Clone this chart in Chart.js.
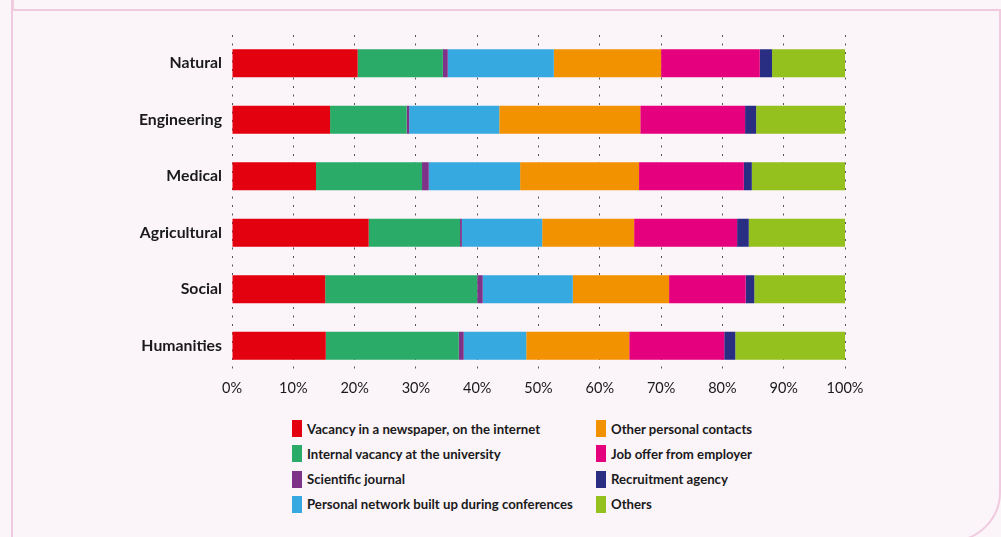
<!DOCTYPE html>
<html>
<head>
<meta charset="utf-8">
<script src="https://cdn.jsdelivr.net/npm/chart.js@4"></script>
<style>
    html, body {
        margin: 0;
        padding: 0;
        width: 1001px;
        height: 537px;
        overflow: hidden;
        background: #fbf4f9;
        font-family: Lato, "Open Sans", sans-serif;
    }
    .frame {
        position: absolute;
        left: 11px;
        top: 9px;
        width: 986px;
        height: 529px;
        border: 2.5px solid #f0cade;
        border-bottom-right-radius: 50px;
    }
    .topline {
        position: absolute;
        left: 11px;
        top: 0;
        width: 2.5px;
        height: 10px;
        background: #f0cade;
    }
    .chart-box {
        position: absolute;
        left: 0;
        top: 0;
        width: 1001px;
        height: 400px;
    }
    #legend {
        position: absolute;
        left: 292px;
        top: 420px;
        display: grid;
        grid-template-columns: 304px 200px;
        grid-auto-flow: column;
        grid-template-rows: repeat(4, 25.3px);
        font-weight: 700;
        font-size: 13.2px;
        color: #1a1a1a;
    }
    .item {
        display: flex;
        align-items: center;
        height: 17px;
    }
    .swatch {
        width: 10px;
        height: 17px;
        margin-right: 5px;
        flex: none;
    }
</style>
</head>
<body>
<div class="topline"></div>
<div class="frame"></div>
<div class="chart-box"><canvas id="barChart" width="1001" height="400"></canvas></div>
<div id="legend"></div>
<script>
// Fields of study
const categories = ['Natural', 'Engineering', 'Medical', 'Agricultural', 'Social', 'Humanities'];

// How the job was found (% per field)
const newspaper  = [20.5, 16.0, 13.7, 22.3, 15.2, 15.3];
const internal   = [13.9, 12.5, 17.3, 14.9, 24.8, 21.7];
const journal    = [0.8, 0.4, 1.1, 0.3, 0.9, 0.8];
const network    = [17.3, 14.7, 14.9, 13.1, 14.7, 10.2];
const contacts   = [17.5, 23.0, 19.4, 15.0, 15.7, 16.8];
const jobOffer   = [16.1, 17.1, 17.1, 16.8, 12.5, 15.5];
const agency     = [2.0, 1.8, 1.3, 1.9, 1.4, 1.8];
const others     = [11.9, 14.5, 15.2, 15.7, 14.8, 17.9];

const seriesNames = [
    'Vacancy in a newspaper, on the internet',
    'Internal vacancy at the university',
    'Scientific journal',
    'Personal network built up during conferences',
    'Other personal contacts',
    'Job offer from employer',
    'Recruitment agency',
    'Others'
];
const seriesData = [newspaper, internal, journal, network, contacts, jobOffer, agency, others];
const seriesColors = ['#e3000f', '#2aab67', '#7f3388', '#37a9e1', '#f39200', '#e5007e', '#2a2e82', '#95c11f'];

const xTicks = [0, 10, 20, 30, 40, 50, 60, 70, 80, 90, 100];

document.addEventListener('DOMContentLoaded', function() {
    const ctx = document.getElementById('barChart').getContext('2d');

    const datasets = seriesNames.map((name, i) => ({
        label: name,
        data: seriesData[i],
        backgroundColor: seriesColors[i],
        borderWidth: 0,
        barPercentage: 1,
        categoryPercentage: 0.496
    }));

    new Chart(ctx, {
        type: 'bar',
        data: { labels: categories, datasets: datasets },
        options: {
            indexAxis: 'y',
            responsive: false,
            animation: false,
            layout: { padding: { top: 35, right: 156, left: 0, bottom: 0 } },
            scales: {
                x: {
                    stacked: true,
                    min: 0,
                    max: 100,
                    afterBuildTicks: axis => { axis.ticks = xTicks.map(v => ({ value: v })); },
                    afterFit: axis => { axis.height = 26; },
                    grid: {
                        color: '#555555',
                        lineWidth: 1,
                        drawTicks: false
                    },
                    border: { display: false, dash: [2, 6.5] },
                    ticks: {
                        padding: 6,
                        color: '#1a1a1a',
                        font: { family: 'Lato', size: 14.5 },
                        callback: v => v + '%'
                    }
                },
                y: {
                    stacked: true,
                    afterFit: axis => { axis.width = 232; },
                    grid: { display: false },
                    border: { display: false },
                    ticks: {
                        padding: 2,
                        color: '#1a1a1a',
                        font: { family: 'Lato', size: 15.8, weight: 'bold' }
                    }
                }
            },
            plugins: {
                legend: { display: false },
                tooltip: { enabled: false }
            }
        }
    });

    // Legend in two columns, filled top to bottom
    const legend = document.getElementById('legend');
    seriesNames.forEach((name, i) => {
        const item = document.createElement('div');
        item.className = 'item';
        item.innerHTML = '<span class="swatch" style="background:' + seriesColors[i] + '"></span><span>' + name + '</span>';
        legend.appendChild(item);
    });
});
</script>
</body>
</html>
